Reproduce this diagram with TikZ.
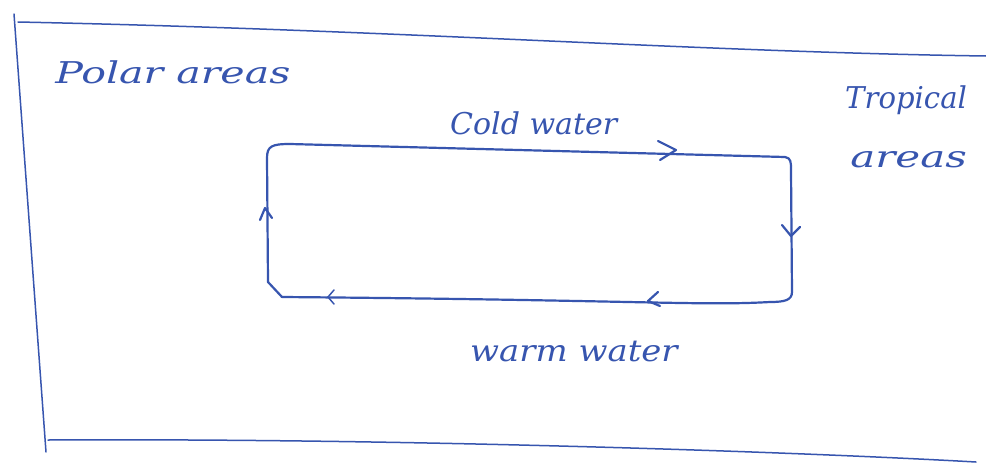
\documentclass[tikz,border=0pt]{standalone}
\usepackage{fontspec}
\setmainfont{DejaVu Serif}
\begin{document}
\begin{tikzpicture}[x=1pt,y=-1pt,
  ink/.style={draw=inkblue, line width=2.2pt, line cap=round, line join=round},
  thin ink/.style={draw=inkblue, line width=1.5pt, line cap=round},
  hand/.style={text=inkblue, font=\itshape\fontsize{30}{30}\selectfont, inner sep=0pt}]
\definecolor{inkblue}{RGB}{55,85,175}
\useasboundingbox[fill=white] (0,0) rectangle (986,464);
% frame
\coordinate (ftl) at (14,14);
\coordinate (fbl) at (46,452);
\coordinate (tl) at (18,22);
\coordinate (tr) at (986,56);
\coordinate (bl) at (48,440);
\coordinate (br) at (976,462);
\draw[thin ink] (ftl) -- (fbl);
\draw[thin ink] (tl) .. controls (400,30) and (700,52) .. (tr);
\draw[thin ink] (bl) .. controls (400,438) and (800,452) .. (br);
% loop
\draw[ink] (267,158) .. controls (267,146) and (272,144) .. (290,144)
  -- (785,157) .. controls (791,158) and (791,162) .. (791,170)
  -- (792,292) .. controls (792,300) and (785,302) .. (770,302)
  .. controls (700,306) and (640,300) .. (282,297) -- (268,282) -- (267,158);
% arrowheads
\draw[ink] (658,141) -- (676,150) -- (660,160);
\draw[ink] (260,220) -- (265,208) -- (272,218);
\draw[ink] (782,225) -- (791,236) -- (800,227);
\draw[ink] (658,292) -- (648,301) -- (660,306);
\draw[thin ink] (334,290) -- (328,297) -- (334,304);
% texts
\node[hand, anchor=west, xscale=1.37] (polar) at (55,72) {Polar areas};
\node[hand, anchor=west] (cold) at (450,123) {Cold water};
\node[hand, anchor=west, xscale=1.13] (warm) at (470,352) {warm water};
\node[hand, anchor=west, xscale=0.97] (trop) at (845,100) {Tropical};
\node[hand, anchor=west, xscale=1.4] (areas) at (850,160) {areas};
\end{tikzpicture}
\end{document}
